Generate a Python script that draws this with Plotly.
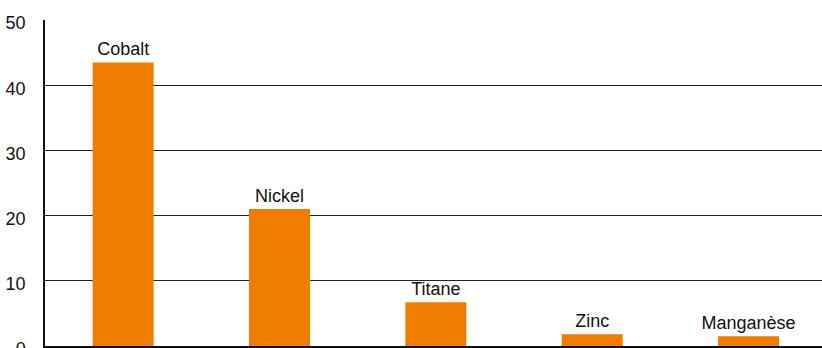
import plotly.graph_objects as go

# Metals and their values
categories = ["Cobalt", "Nickel", "Titane", "Zinc", "Manganèse"]
values = [43.5, 21.0, 6.7, 1.8, 1.5]

# Y-axis ticks
y_ticks = [0, 10, 20, 30, 40, 50]
y_tick_labels = ["0", "10", "20", "30", "40", "50"]

fig = go.Figure(
    go.Bar(
        x=categories,
        y=values,
        text=categories,
        textposition="outside",
        constraintext="none",
        cliponaxis=False,
        textfont=dict(family="Liberation Sans, Arial, sans-serif", size=18, color="#111111"),
        marker=dict(color="#EF7D00", line=dict(width=0)),
        width=0.39,
        hoverinfo="x+y",
    )
)

fig.update_layout(
    width=822,
    height=348,
    margin=dict(l=45, r=0, t=20, b=2, autoexpand=False),
    paper_bgcolor="white",
    plot_bgcolor="white",
    showlegend=False,
    font=dict(family="Liberation Sans, Arial, sans-serif", size=18, color="#111111"),
)

fig.update_xaxes(
    type="category",
    range=[-0.5, 4.47],
    showticklabels=False,
    showgrid=False,
    ticks="",
    showline=True,
    linecolor="#111111",
    linewidth=1.5,
    zeroline=False,
    automargin=False,
)

fig.update_yaxes(
    range=[0, 50],
    tickvals=y_ticks,
    ticktext=y_tick_labels,
    showgrid=True,
    gridcolor="#222222",
    gridwidth=1,
    showline=True,
    linecolor="#111111",
    linewidth=1.5,
    zeroline=False,
    ticks="",
    ticklabelstandoff=14,
    ticklabelshift=3,
    ticklabeloverflow="allow",
    automargin=False,
    tickfont=dict(family="Liberation Sans, Arial, sans-serif", size=18, color="#111111"),
)

fig.write_html("out.html")
